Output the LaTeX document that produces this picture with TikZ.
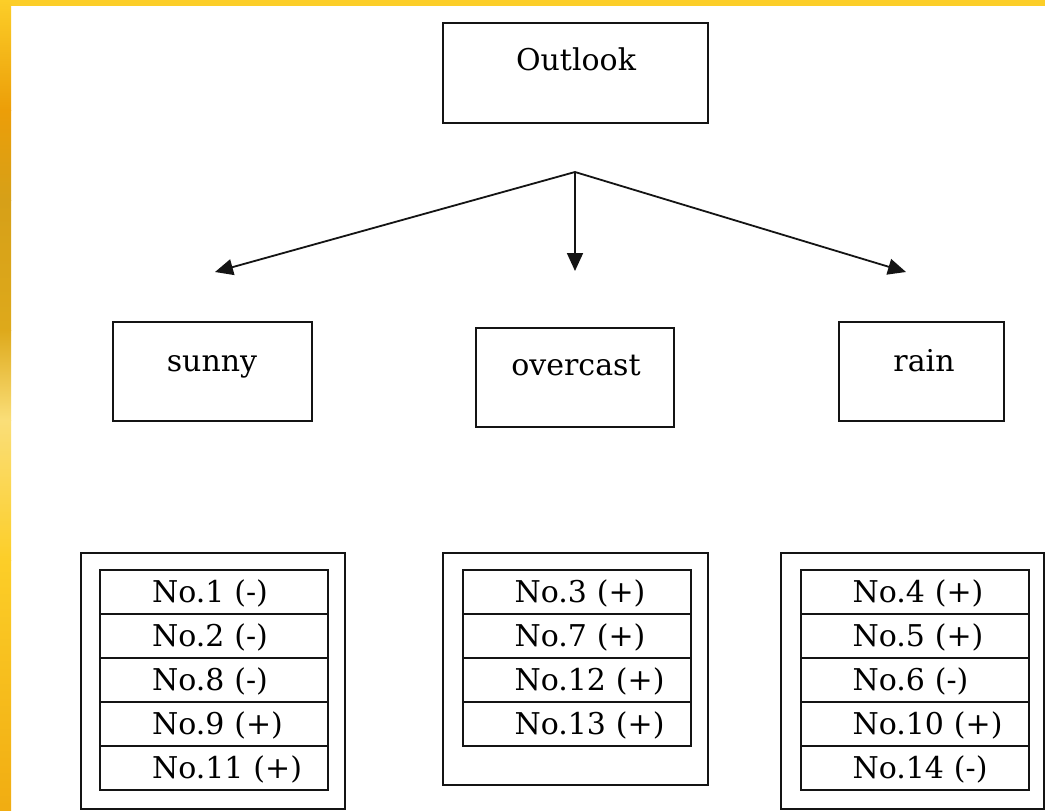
\documentclass[tikz,border=0pt]{standalone}
\usepackage{fontspec}
\setmainfont{DejaVu Serif}
\usetikzlibrary{arrows.meta,positioning}
\definecolor{frameyellow}{RGB}{252,206,40}
\definecolor{frameorange}{RGB}{236,158,8}
\definecolor{framegold}{RGB}{214,160,24}
\definecolor{framelight}{RGB}{250,222,120}
\definecolor{ink}{RGB}{20,20,20}
\tikzset{
  box/.style={draw=ink, line width=2pt, inner sep=0pt, outer sep=0pt, minimum width=#1},
  box/.default=200pt,
  rowcell/.style={draw=ink, line width=2pt, inner xsep=0pt, inner ysep=0pt, outer sep=0pt,
    minimum width=228pt, minimum height=44pt, text width=210pt, align=left,
    text height=22pt, text depth=2pt, font=\fontsize{30}{34}\selectfont,
    execute at begin node={\hspace*{43pt}}},
  label text/.style={font=\fontsize{30}{34}\selectfont, inner sep=0pt, anchor=base},
  branch/.style={draw=ink, line width=1.8pt, -{Triangle[length=18pt,width=16pt]}},
}
\begin{document}
\begin{tikzpicture}[x=1pt,y=-1pt]
  \useasboundingbox (0,0) rectangle (1045,811);
  % page background and the yellow frame
  \fill[white] (0,0) rectangle (1045,811);
  \fill[frameyellow] (0,0) rectangle (1045,6);
  \shade[top color=frameyellow, bottom color=frameorange] (0,0) rectangle (11,110);
  \shade[top color=frameorange, bottom color=framegold] (0,110) rectangle (11,200);
  \shade[top color=framegold, bottom color=framegold!80!frameyellow] (0,200) rectangle (11,330);
  \shade[top color=framegold!80!frameyellow, bottom color=framelight] (0,330) rectangle (11,420);
  \shade[top color=framelight, bottom color=frameyellow] (0,420) rectangle (11,560);
  \shade[top color=frameyellow, bottom color=frameorange!70!frameyellow] (0,560) rectangle (11,811);

  % root and attribute values
  \node[box=265pt, minimum height=100pt] (outlook) at (575.5,73) {};
  \node[label text] at (576,70) {Outlook};

  \node[box=199pt, minimum height=99pt] (sunny) at (212.5,371.5) {};
  \node[label text] at (212,371) {sunny};
  \node[box=198pt, minimum height=99pt] (overcast) at (575,377.5) {};
  \node[label text] at (576,375) {overcast};
  \node[box=165pt, minimum height=99pt] (rain) at (921.5,371.5) {};
  \node[label text] at (924,371) {rain};

  % branches
  \coordinate (fork) at (575,172);
  \coordinate (tipS) at (215,272);
  \coordinate (tipO) at (575,271);
  \coordinate (tipR) at (906,272);
  \draw[branch] (fork) -- (tipS);
  \draw[branch] (fork) -- (tipO);
  \draw[branch] (fork) -- (tipR);

  % sample lists
  \node[box=264pt, minimum height=256pt] (setS) at (213,681) {};
  \node[rowcell] (s1) at (214,592) {No.1 (-)};
  \node[rowcell, below=0pt of s1] (s2) {No.2 (-)};
  \node[rowcell, below=0pt of s2] (s3) {No.8 (-)};
  \node[rowcell, below=0pt of s3] (s4) {No.9 (+)};
  \node[rowcell, below=0pt of s4] (s5) {No.11 (+)};

  \node[box=265pt, minimum height=232pt] (setO) at (575.5,669) {};
  \node[rowcell] (o1) at (576.5,592) {No.3 (+)};
  \node[rowcell, below=0pt of o1] (o2) {No.7 (+)};
  \node[rowcell, below=0pt of o2] (o3) {No.12 (+)};
  \node[rowcell, below=0pt of o3] (o4) {No.13 (+)};

  \node[box=263pt, minimum height=256pt] (setR) at (912.5,681) {};
  \node[rowcell] (r1) at (914.5,592) {No.4 (+)};
  \node[rowcell, below=0pt of r1] (r2) {No.5 (+)};
  \node[rowcell, below=0pt of r2] (r3) {No.6 (-)};
  \node[rowcell, below=0pt of r3] (r4) {No.10 (+)};
  \node[rowcell, below=0pt of r4] (r5) {No.14 (-)};
\end{tikzpicture}
\end{document}
